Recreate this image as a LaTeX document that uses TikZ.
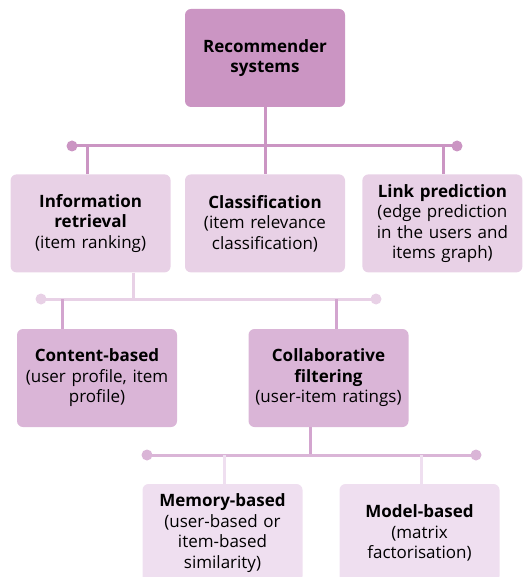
\documentclass[tikz,border=0pt]{standalone}
\usepackage{fontspec}
\setmainfont{Open Sans}
\usetikzlibrary{positioning}
\definecolor{rootpink}{HTML}{CB95C3}
\definecolor{lvlone}{HTML}{E8D1E6}
\definecolor{lvltwo}{HTML}{DAB5D7}
\definecolor{lvltwoline}{HTML}{D3A5CF}
\definecolor{lvlthree}{HTML}{EFDFF0}
\tikzset{%
	catbox/.style = {
		rectangle, rounded corners=6pt,
		minimum width=160pt, minimum height=98pt,
		text width=158pt, inner sep=0pt, align=center,
		font=\fontsize{17}{20.5}\selectfont
	},
	treeline/.style = {line width=3pt},
	barend/.style = {radius=5.5pt}
}

\begin{document}
\begin{tikzpicture}[x=1pt, y=1pt]
    \useasboundingbox (0,0) rectangle (530,-577);
    \clip (0,0) rectangle (530,-577);
    % Boxes, one row per level
    \node (root)      [catbox, fill=rootpink] at (265,-58)          {\textbf{Recommender}\\\textbf{systems}};
    \node (classif)   [catbox, fill=lvlone, below=67pt of root]     {\textbf{Classification}\\(item relevance\\classification)};
    \node (inforet)   [catbox, fill=lvlone, left=14pt of classif]   {\textbf{Information}\\\textbf{retrieval}\\(item ranking)};
    \node (linkpred)  [catbox, fill=lvlone, right=17pt of classif]  {\textbf{Link prediction}\\(edge prediction\\in the users and\\items graph)};
    \node (content)   [catbox, fill=lvltwo] at (97,-378)            {\textbf{Content-based}\\(user profile, item\\profile)};
    \node (collab)    [catbox, fill=lvltwo] at (328.5,-378)         {\textbf{Collaborative}\\\textbf{filtering}\\(user-item ratings)};
    \node (memory)    [catbox, fill=lvlthree] at (222.5,-533)       {\textbf{Memory-based}\\(user-based or\\item-based\\similarity)};
    \node (model)     [catbox, fill=lvlthree] at (419.5,-533)       {\textbf{Model-based}\\(matrix\\factorisation)};

    % Bars that spread each box out to its children
    \coordinate (barAw) at (72,-146);   \coordinate (barAe) at (457,-146);
    \coordinate (barBw) at (41,-299);   \coordinate (barBe) at (376,-299);
    \coordinate (barCw) at (147,-455);  \coordinate (barCe) at (476,-455);

    % root -> first level
    \draw[treeline, rootpink] (root) -- (root |- barAw);
    \draw[treeline, rootpink] (barAw) -- (barAe);
    \fill[rootpink] (barAw) circle[barend] (barAe) circle[barend];
    \foreach \n/\dx in {inforet/-3, classif/0, linkpred/1.5}
        \draw[treeline, rootpink] ([xshift=\dx pt]\n.north |- barAw) -- ([xshift=\dx pt]\n.north);

    % information retrieval -> second level
    \draw[treeline, lvlone] ([xshift=43pt]inforet.south) -- ([xshift=43pt]inforet.south |- barBw);
    \draw[treeline, lvlone] (barBw) -- (barBe);
    \fill[lvlone] (barBw) circle[barend] (barBe) circle[barend];
    \foreach \n/\dx in {content/-35, collab/7.5}
        \draw[treeline, lvltwoline] ([xshift=\dx pt]\n.north |- barBw) -- ([xshift=\dx pt]\n.north);

    % collaborative filtering -> third level
    \draw[treeline, lvltwoline] ([xshift=-18.5pt]collab.south) -- ([xshift=-18.5pt]collab.south |- barCw);
    \draw[treeline, lvltwo] (barCw) -- (barCe);
    \fill[lvltwo] (barCw) circle[barend] (barCe) circle[barend];
    \foreach \n/\dx in {memory/1.5, model/1.5}
        \draw[treeline, lvlthree] ([xshift=\dx pt]\n.north |- barCw) -- ([xshift=\dx pt]\n.north);

\end{tikzpicture}
\end{document}
